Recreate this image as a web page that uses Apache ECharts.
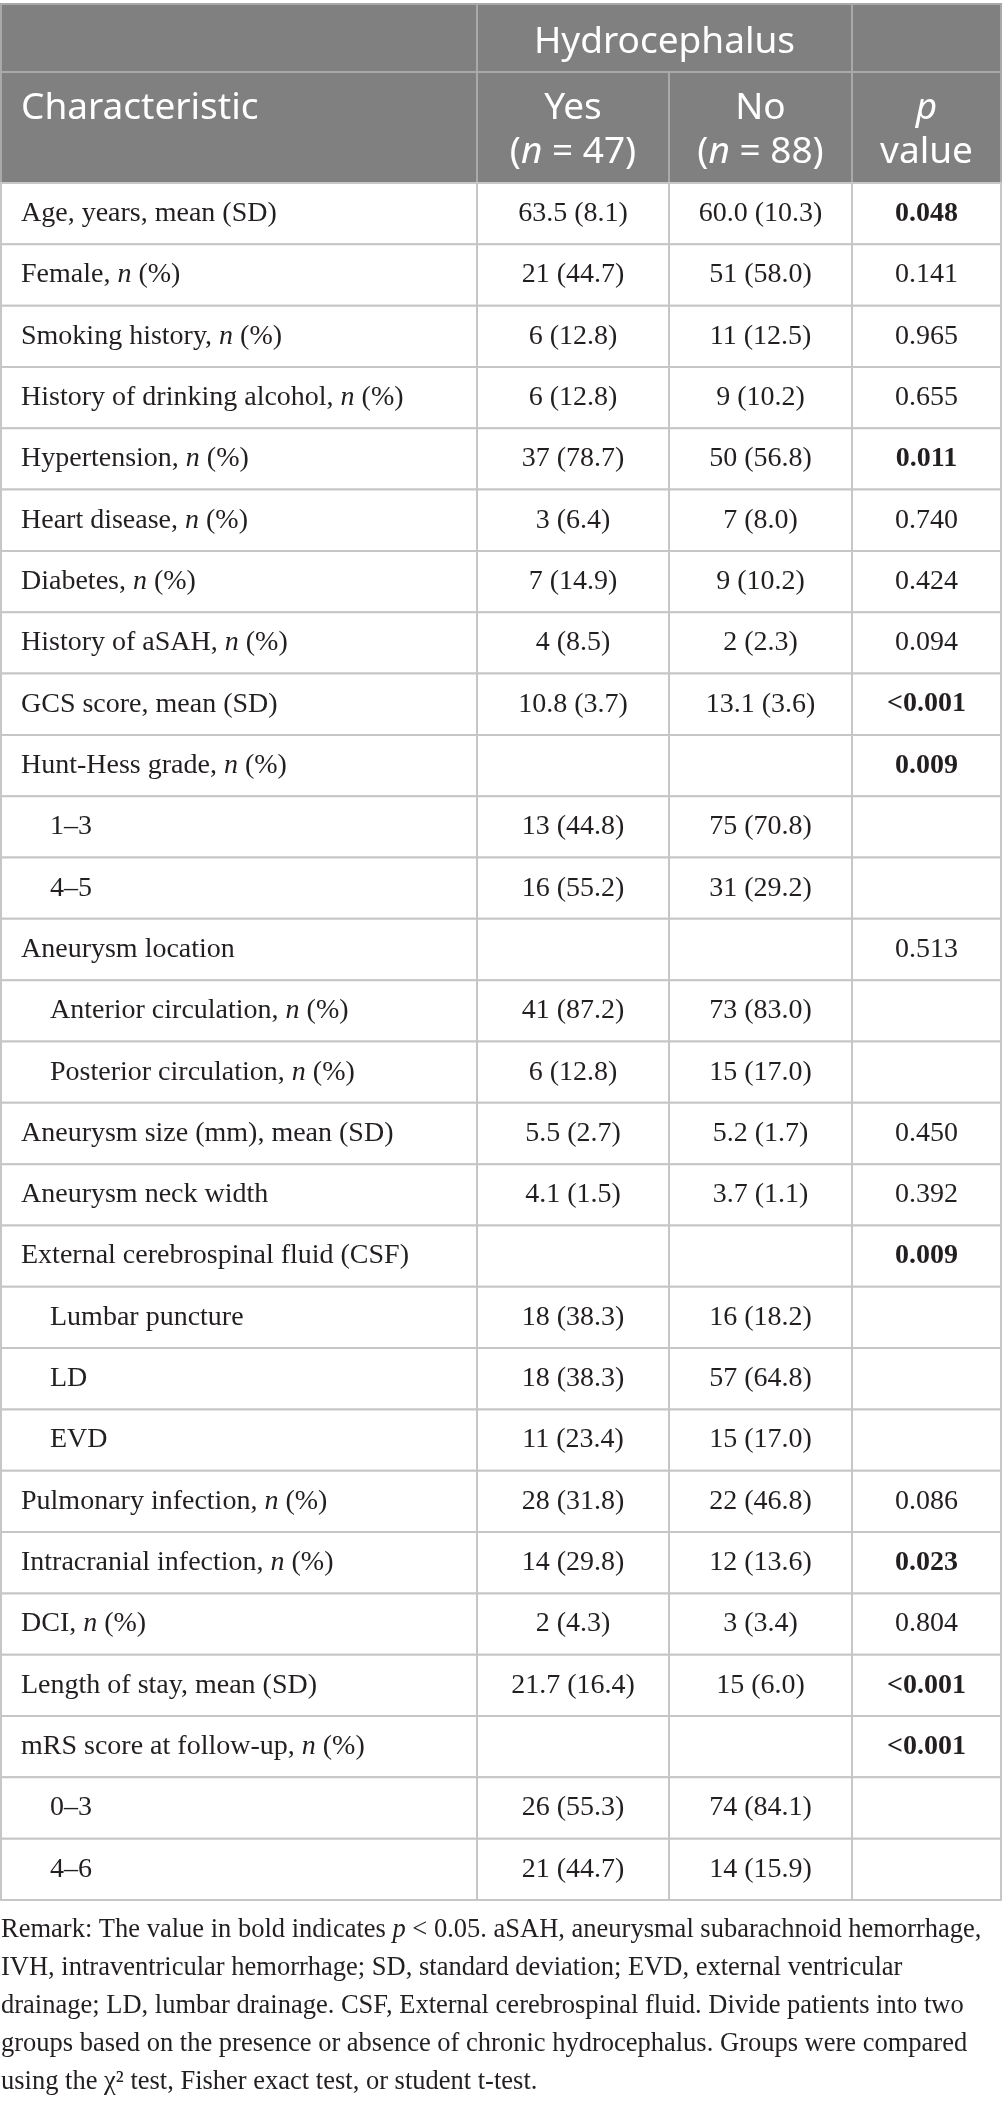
<!DOCTYPE html>
<html>
<head>
    <meta charset="utf-8">
    <title>Hydrocephalus table</title>
    <script src="https://cdn.jsdelivr.net/npm/echarts@6/dist/echarts.min.js"></script>
    <style>
        body { margin: 0; background: #fff; }
    </style>
</head>
<body>

<div id="table" style="width: 1002px;height:2105px;"></div>

<script type="text/javascript">
    // row labels, indent flag, values per group, p values
    var rowLabels = [
        'Age, years, mean (SD)', 'Female, n (%)', 'Smoking history, n (%)',
        'History of drinking alcohol, n (%)', 'Hypertension, n (%)', 'Heart disease, n (%)',
        'Diabetes, n (%)', 'History of aSAH, n (%)', 'GCS score, mean (SD)',
        'Hunt-Hess grade, n (%)', '1–3', '4–5', 'Aneurysm location',
        'Anterior circulation, n (%)', 'Posterior circulation, n (%)',
        'Aneurysm size (mm), mean (SD)', 'Aneurysm neck width',
        'External cerebrospinal fluid (CSF)', 'Lumbar puncture', 'LD', 'EVD',
        'Pulmonary infection, n (%)', 'Intracranial infection, n (%)', 'DCI, n (%)',
        'Length of stay, mean (SD)', 'mRS score at follow-up, n (%)', '0–3', '4–6'
    ];
    var indented = [0,0,0,0,0,0,0,0,0,0,1,1,0,1,1,0,0,0,1,1,1,0,0,0,0,0,1,1];
    var yesVals = [
        '63.5 (8.1)', '21 (44.7)', '6 (12.8)', '6 (12.8)', '37 (78.7)', '3 (6.4)',
        '7 (14.9)', '4 (8.5)', '10.8 (3.7)', '', '13 (44.8)', '16 (55.2)', '',
        '41 (87.2)', '6 (12.8)', '5.5 (2.7)', '4.1 (1.5)', '', '18 (38.3)', '18 (38.3)',
        '11 (23.4)', '28 (31.8)', '14 (29.8)', '2 (4.3)', '21.7 (16.4)', '', '26 (55.3)', '21 (44.7)'
    ];
    var noVals = [
        '60.0 (10.3)', '51 (58.0)', '11 (12.5)', '9 (10.2)', '50 (56.8)', '7 (8.0)',
        '9 (10.2)', '2 (2.3)', '13.1 (3.6)', '', '75 (70.8)', '31 (29.2)', '',
        '73 (83.0)', '15 (17.0)', '5.2 (1.7)', '3.7 (1.1)', '', '16 (18.2)', '57 (64.8)',
        '15 (17.0)', '22 (46.8)', '12 (13.6)', '3 (3.4)', '15 (6.0)', '', '74 (84.1)', '14 (15.9)'
    ];
    var pVals = [
        '0.048', '0.141', '0.965', '0.655', '0.011', '0.740', '0.424', '0.094', '<0.001',
        '0.009', '', '', '0.513', '', '', '0.450', '0.392', '0.009', '', '', '',
        '0.086', '0.023', '0.804', '<0.001', '<0.001', '', ''
    ];
    var pBold = [1,0,0,0,1,0,0,0,1,1,0,0,0,0,0,0,0,1,0,0,0,0,1,0,1,1,0,0];

    var headerGroup = 'Hydrocephalus';
    var headerCols = ['Characteristic', 'Yes\n({i|n} = 47)', 'No\n({i|n} = 88)', '{i|p}\nvalue'];

    var remarkLines = [
        'Remark: The value in bold indicates {i|p} < 0.05. aSAH, aneurysmal subarachnoid hemorrhage,',
        'IVH, intraventricular hemorrhage; SD, standard deviation; EVD, external ventricular',
        'drainage; LD, lumbar drainage. CSF, External cerebrospinal fluid. Divide patients into two',
        'groups based on the presence or absence of chronic hydrocephalus. Groups were compared',
        'using the χ² test, Fisher exact test, or student t-test.'
    ];

    // layout
    var colEdges = [1, 477, 669, 852, 1001];
    var serif = '"Liberation Serif", "DejaVu Serif", serif';
    var sans = '"Noto Sans", "Open Sans", sans-serif';
    var bodyColor = '#231f20';
    var lineColor = '#c6c6c6';
    var headFill = '#808080';
    var headLine = '#a9a9a9';

    function serifRich(size) {
        return {
            r: { fontFamily: serif, fontSize: size, fill: bodyColor },
            i: { fontFamily: serif, fontSize: size, fontStyle: 'italic', fill: bodyColor },
            b: { fontFamily: serif, fontSize: size, fontWeight: 'bold', fill: bodyColor }
        };
    }
    function sansRich() {
        return {
            i: { fontFamily: sans, fontSize: 37, fontStyle: 'italic', fill: '#fff', lineHeight: 44 }
        };
    }
    function italicN(s) {
        return '{r|' + s.replace(/\bn\b/g, '}{i|n}{r|') + '}';
    }

    var chart = echarts.init(document.getElementById('table'));

    var rowData = rowLabels.map(function (d, i) { return [0, i]; });

    var header = [];
    // header background
    header.push({ type: 'rect', shape: { x: 1, y: 4, width: 1000, height: 179 },
        style: { fill: headFill, stroke: headLine, lineWidth: 2 } });
    header.push({ type: 'line', shape: { x1: 1, y1: 72, x2: 1001, y2: 72 },
        style: { stroke: headLine, lineWidth: 2 } });
    header.push({ type: 'line', shape: { x1: colEdges[1], y1: 4, x2: colEdges[1], y2: 183 },
        style: { stroke: headLine, lineWidth: 2 } });
    header.push({ type: 'line', shape: { x1: colEdges[3], y1: 4, x2: colEdges[3], y2: 183 },
        style: { stroke: headLine, lineWidth: 2 } });
    header.push({ type: 'line', shape: { x1: colEdges[2], y1: 72, x2: colEdges[2], y2: 183 },
        style: { stroke: headLine, lineWidth: 2 } });
    header.push({ type: 'text', x: (colEdges[1] + colEdges[3]) / 2, y: 42,
        style: { text: headerGroup, fontFamily: sans, fontSize: 37, fill: '#fff',
            align: 'center', verticalAlign: 'middle' } });
    header.push({ type: 'text', x: 21, y: 108,
        style: { text: headerCols[0], fontFamily: sans, fontSize: 37, fill: '#fff',
            align: 'left', verticalAlign: 'middle' } });
    for (var c = 1; c < 4; c++) {
        header.push({ type: 'text', x: (colEdges[c] + colEdges[c + 1]) / 2, y: 130,
            style: { text: headerCols[c], fontFamily: sans, fontSize: 37, fill: '#fff',
                lineHeight: 44, align: 'center', verticalAlign: 'middle', rich: sansRich() } });
    }
    // remark below the table
    header.push({ type: 'text', x: 1, y: 1911,
        style: { text: remarkLines.join('\n'), fontFamily: serif, fontSize: 26.5, fill: bodyColor,
            lineHeight: 38, align: 'left', verticalAlign: 'top',
            rich: { i: { fontFamily: serif, fontSize: 26.5, fontStyle: 'italic', fill: bodyColor, lineHeight: 38 } } } });

    chart.setOption({
        animation: false,
        grid: { left: 0, right: 0, top: 183, bottom: 205 },
        xAxis: { type: 'value', min: 0, max: 1002, show: false },
        yAxis: { type: 'category', data: rowLabels, inverse: true, show: false },
        graphic: header,
        series: [{
            type: 'custom',
            data: rowData,
            encode: { x: 0, y: 1 },
            renderItem: function (params, api) {
                var i = api.value(1);
                var mid = api.coord([0, i])[1];
                var h = api.size([0, 1])[1];
                var top = mid - h / 2;
                var xs = colEdges.map(function (e) { return api.coord([e, i])[0]; });
                var kids = [];
                for (var c = 0; c < 4; c++) {
                    kids.push({ type: 'rect',
                        shape: { x: xs[c], y: top, width: xs[c + 1] - xs[c], height: h },
                        style: { fill: '#fff', stroke: lineColor, lineWidth: 2 } });
                }
                kids.push({ type: 'text', x: xs[0] + (indented[i] ? 49 : 20), y: mid,
                    style: { text: italicN(rowLabels[i]), rich: serifRich(28),
                        fontFamily: serif, fontSize: 28, fill: bodyColor,
                        align: 'left', verticalAlign: 'middle' } });
                var cells = [yesVals[i], noVals[i]];
                for (var k = 0; k < 2; k++) {
                    if (!cells[k]) continue;
                    kids.push({ type: 'text', x: (xs[k + 1] + xs[k + 2]) / 2, y: mid,
                        style: { text: '{r|' + cells[k] + '}', rich: serifRich(28),
                            fontFamily: serif, fontSize: 28, fill: bodyColor,
                            align: 'center', verticalAlign: 'middle' } });
                }
                if (pVals[i]) {
                    kids.push({ type: 'text', x: (xs[3] + xs[4]) / 2, y: mid,
                        style: { text: '{' + (pBold[i] ? 'b' : 'r') + '|' + pVals[i] + '}',
                            rich: serifRich(28), fontFamily: serif, fontSize: 28, fill: bodyColor,
                            align: 'center', verticalAlign: 'middle' } });
                }
                return { type: 'group', children: kids };
            }
        }]
    });
</script>
</body>
</html>
